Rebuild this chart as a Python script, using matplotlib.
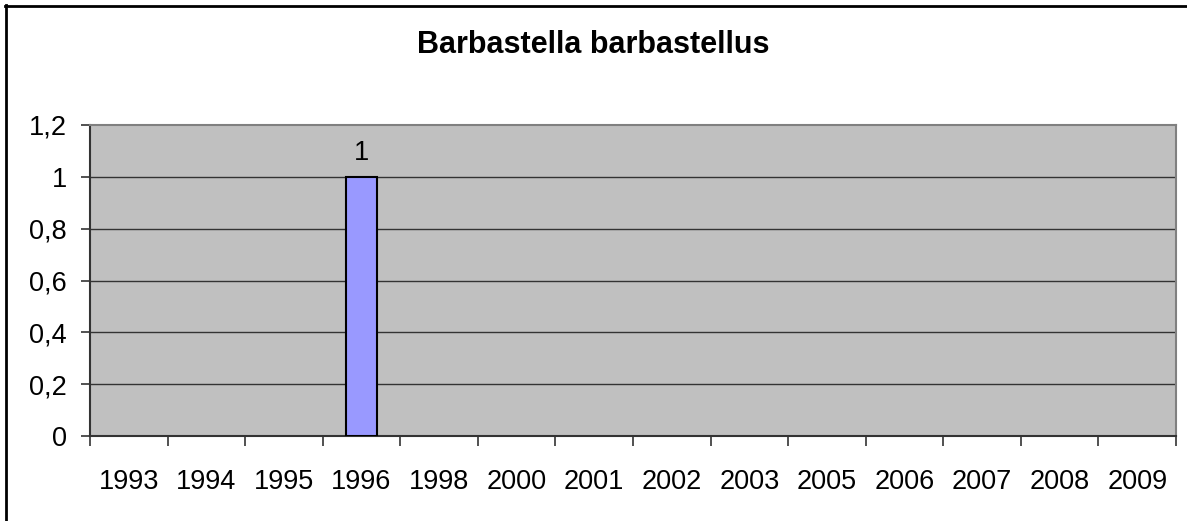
import matplotlib.pyplot as plt
from matplotlib.lines import Line2D
import numpy as np

plt.rcParams['font.family'] = ['Liberation Sans', 'DejaVu Sans']

years = ['1993', '1994', '1995', '1996', '1998', '2000', '2001',
         '2002', '2003', '2005', '2006', '2007', '2008', '2009']
counts = [0, 0, 0, 1, 0, 0, 0, 0, 0, 0, 0, 0, 0, 0]
yticks = [0, 0.2, 0.4, 0.6, 0.8, 1, 1.2]
ytick_labels = ['0', '0,2', '0,4', '0,6', '0,8', '1', '1,2']
title = 'Barbastella barbastellus'

fig = plt.figure(figsize=(11.87, 5.21), dpi=100)
ax = fig.add_axes([90 / 1187, 85 / 521, 1086 / 1187, 311 / 521])
ax.set_facecolor('#c0c0c0')

x = np.arange(len(years))
ax.set_xlim(-0.5, len(years) - 0.5)
ax.set_ylim(0, 1.2)

for yv in yticks[1:-1]:
    ax.axhline(yv, color='#333333', lw=1.0, zorder=1)

edges = ['black' if v > 0 else 'none' for v in counts]
ax.bar(x, counts, width=0.4, color='#9999ff', edgecolor=edges,
       linewidth=1.5, zorder=3)
for xi, v in zip(x, counts):
    if v > 0:
        ax.text(xi, v + 0.065, str(v), ha='center', va='baseline',
                fontsize=19.5)

ax.set_yticks(yticks)
ax.set_yticklabels(ytick_labels, fontsize=19.5)
ax.set_xticks(x)
ax.set_xticklabels(years, fontsize=19.5)
ax.set_xticks(np.arange(len(years) + 1) - 0.5, minor=True)
ax.tick_params(axis='x', which='major', length=0, pad=24)
ax.tick_params(axis='x', which='minor', length=7.5, width=1.2, color='#333333')
ax.tick_params(axis='y', length=6.5, width=1.2, color='#333333', pad=10)

for side in ['top', 'right']:
    ax.spines[side].set_color('#808080')
    ax.spines[side].set_linewidth(1.5)
for side in ['left', 'bottom']:
    ax.spines[side].set_color('#333333')
    ax.spines[side].set_linewidth(1.5)

fig.text(0.5, 1 - 45 / 521, title, ha='center', va='center',
         fontsize=22, fontweight='bold')

# outer chart border (only top and left are inside the picture)
fig.add_artist(Line2D([5 / 1187, 1], [1 - 6 / 521, 1 - 6 / 521],
                      color='black', lw=2, transform=fig.transFigure))
fig.add_artist(Line2D([6 / 1187, 6 / 1187], [0, 1 - 5 / 521],
                      color='black', lw=2, transform=fig.transFigure))

fig.savefig('out.png', dpi=100)
